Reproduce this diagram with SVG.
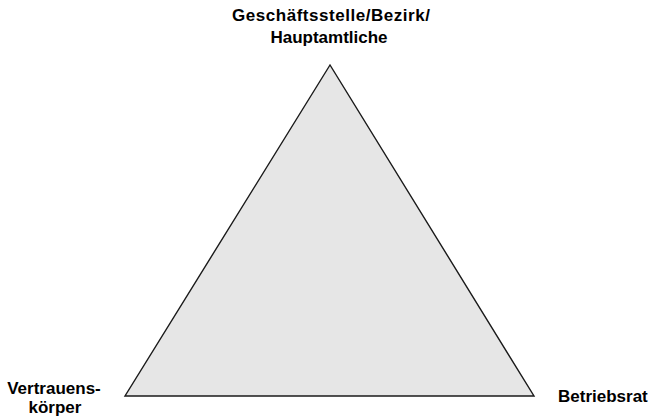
<svg xmlns="http://www.w3.org/2000/svg" width="651" height="417" viewBox="0 0 651 417">
<style>
.lbl{font-family:"Liberation Sans",Arial,sans-serif;font-weight:bold;font-size:17px;fill:#000}
</style>
<rect width="651" height="417" fill="#fff"/>
<g id="connectors">
<polygon points="330,65 125,396 534,396" fill="#e6e6e6" stroke="#1a1a1a" stroke-width="1.4" stroke-linejoin="miter"/>
</g>
<g id="node-top">
<text class="lbl" x="331" y="21" text-anchor="middle" textLength="198" lengthAdjust="spacing">Geschäftsstelle/Bezirk/</text>
<text class="lbl" x="329" y="43" text-anchor="middle">Hauptamtliche</text>
</g>
<g id="node-left">
<text class="lbl" x="54" y="394" text-anchor="middle">Vertrauens-</text>
<text class="lbl" x="55" y="413" text-anchor="middle">körper</text>
</g>
<g id="node-right">
<text class="lbl" x="558" y="402">Betriebsrat</text>
</g>
</svg>
